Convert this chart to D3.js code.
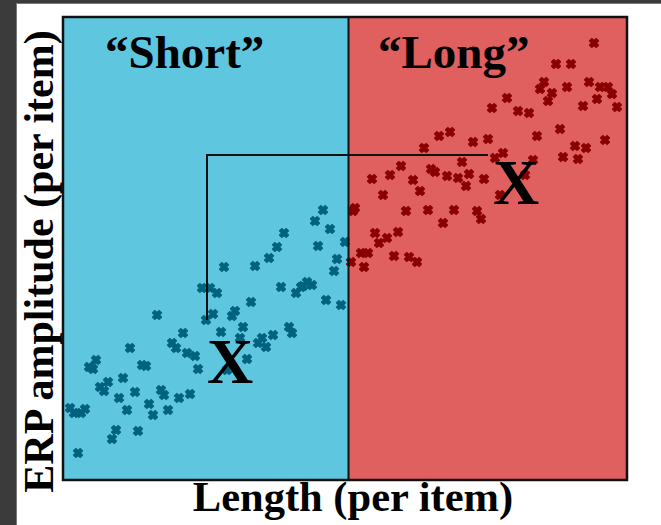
<!DOCTYPE html>
<html>
<head>
<meta charset="utf-8">
<script src="https://cdn.jsdelivr.net/npm/d3@7"></script>
<style>
  html, body { margin: 0; padding: 0; background: #3b3b3b; }
  svg { display: block; }
</style>
</head>
<body>
<svg id="chart" width="661" height="525"></svg>
<script>
// Item length (x) and ERP amplitude (y) for each item, arbitrary units
const shortLength = [26.0, 25.2, 26.7, 22.1, 21.4, 25.5, 28.2, 20.6, 27.4, 27.1, 19.2, 16.1, 21.8, 23.3, 23.8, 24.4, 24.9, 24.0, 26.3, 27.8,
  18.8, 13.9, 14.7, 15.4, 17.2, 16.9, 15.0, 14.3, 9.4, 18.0, 15.8, 17.7, 19.9, 19.5, 20.3, 21.0, 22.6, 22.9, 12.0, 10.9,
  11.3, 12.4, 13.2, 13.5, 18.4, 16.4, 6.7, 3.3, 2.6, 3.0, 7.9, 8.3, 6.0, 4.5, 3.7, 4.1, 7.2, 5.6, 9.8, 10.1,
  11.6, 12.7, 6.4, 8.6, 9.0, 10.5, 0.7, 1.1, 1.8, 2.2, 5.3, 4.9, 7.5, 1.5];
const shortAmplitude = [27.0, 25.9, 25.1, 24.7, 23.3, 23.4, 23.8, 22.2, 22.1, 20.9, 21.4, 21.3, 19.3, 18.7, 19.3, 19.8, 19.5, 19.4, 18.0, 17.5,
  17.8, 19.2, 19.2, 18.7, 16.9, 16.4, 16.6, 16.0, 16.5, 15.3, 14.8, 14.2, 14.2, 13.7, 13.3, 14.5, 15.3, 14.7, 14.7, 13.7,
  13.2, 12.7, 12.4, 11.1, 12.1, 11.0, 13.2, 12.0, 11.3, 11.1, 11.5, 11.4, 10.2, 9.8, 9.3, 8.9, 8.8, 8.2, 9.0, 8.5,
  8.2, 8.6, 7.0, 7.6, 6.5, 7.0, 7.2, 6.7, 6.7, 7.1, 5.0, 4.1, 4.9, 2.7];

const longLength = [53.1, 49.3, 50.8, 48.1, 47.7, 48.9, 48.5, 50.4, 52.6, 53.7, 54.5, 54.9, 53.4, 52.0, 55.4, 44.4, 42.9, 45.5, 46.6, 49.7,
  47.4, 54.2, 51.2, 52.3, 50.0, 51.5, 42.5, 41.0, 38.7, 37.6, 36.1, 44.0, 43.2, 39.9, 47.0, 46.2, 43.7, 33.8, 32.7, 30.9,
  35.0, 36.8, 37.2, 38.4, 39.5, 40.6, 40.3, 42.1, 35.7, 32.0, 29.2, 29.0, 34.3, 36.5, 39.1, 41.4, 41.8, 38.0, 31.2, 32.4,
  31.6, 33.5, 29.8, 30.5, 30.1, 33.1, 34.6, 35.4, 28.8];
const longAmplitude = [43.7, 41.6, 41.6, 39.8, 39.1, 38.7, 37.9, 39.3, 39.8, 39.3, 39.3, 38.6, 38.1, 37.4, 37.3, 38.2, 37.2, 36.9, 36.7, 35.1,
  34.4, 34.0, 33.4, 33.2, 32.3, 32.1, 34.1, 33.8, 34.8, 34.4, 33.2, 32.7, 32.2, 31.8, 32.0, 30.5, 28.5, 31.4, 30.5, 30.1,
  30.0, 31.1, 30.8, 30.4, 30.2, 30.6, 29.4, 30.1, 28.9, 28.5, 27.2, 26.9, 26.9, 27.0, 27.0, 26.9, 26.1, 25.7, 24.7, 24.2,
  23.7, 24.8, 22.7, 22.7, 21.3, 22.4, 22.3, 21.8, 21.8];

// Group means, marked with a large X
const groupNames = ["“Short”", "“Long”"];
const meanLength = [16.7, 45.3];
const meanAmplitude = [11.9, 29.8];

// Length domain and the split between short and long items
const lengthExtent = [0, 56.4];
const amplitudeExtent = [0, 46.3];
const lengthSplit = 28.55;

const axisTitles = ["Length (per item)", "ERP amplitude (per item)"];

const svg = d3.select("#chart");
const W = 661, H = 525;
const plot = { left: 63, right: 627, top: 17, bottom: 480 };
const serif = "'Liberation Serif', 'Times New Roman', serif";

const x = d3.scaleLinear().domain(lengthExtent).range([plot.left, plot.right]);
const y = d3.scaleLinear().domain(amplitudeExtent).range([plot.bottom, plot.top]);

// Slide frame: dark edge with a white page
svg.append("rect").attr("x", 0).attr("y", 0).attr("width", W).attr("height", H).attr("fill", "#3b3b3b");
svg.append("rect").attr("x", 16).attr("y", 3).attr("width", W - 16).attr("height", H - 3).attr("fill", "#7a7a7a");
svg.append("rect").attr("x", 17).attr("y", 4).attr("width", W - 17).attr("height", H - 4).attr("fill", "#ffffff");

// Background regions
svg.append("rect")
  .attr("x", x(lengthExtent[0])).attr("y", y(amplitudeExtent[1]))
  .attr("width", x(lengthSplit) - x(lengthExtent[0]))
  .attr("height", y(amplitudeExtent[0]) - y(amplitudeExtent[1]))
  .attr("fill", "#5ec6df");
svg.append("rect")
  .attr("x", x(lengthSplit)).attr("y", y(amplitudeExtent[1]))
  .attr("width", x(lengthExtent[1]) - x(lengthSplit))
  .attr("height", y(amplitudeExtent[0]) - y(amplitudeExtent[1]))
  .attr("fill", "#e05f5f");

// Group titles
const titleX = [105, 378];
groupNames.forEach((name, i) => {
  svg.append("text")
    .attr("x", titleX[i]).attr("y", 68)
    .attr("font-family", serif).attr("font-weight", "bold").attr("font-size", 47)
    .attr("fill", "#000").text(name);
});

// Scatter markers: chunky rounded crosses
const marker = d3.symbol().type(d3.symbolCross).size(46)();
function drawPoints(xs, ys, color) {
  svg.append("g").selectAll("path")
    .data(d3.zip(xs, ys))
    .join("path")
    .attr("d", marker)
    .attr("transform", d => `translate(${x(d[0])},${y(d[1])}) rotate(45)`)
    .attr("fill", color)
    .attr("stroke", color)
    .attr("stroke-width", 1.6)
    .attr("stroke-linejoin", "round");
}
drawPoints(shortLength, shortAmplitude, "#00627f");
drawPoints(longLength, longAmplitude, "#8a0000");

// Bracket linking the two group means
const sx = x(meanLength[0]), sy = y(meanAmplitude[0]);
const lx = x(meanLength[1]), ly = y(meanAmplitude[1]);
svg.append("path")
  .attr("d", d3.line()([[sx - 23, sy - 41], [sx - 23, ly - 27], [lx - 28, ly - 27]]))
  .attr("fill", "none").attr("stroke", "#111").attr("stroke-width", 2);

// Mean markers
meanLength.forEach((m, i) => {
  svg.append("text")
    .attr("x", x(m)).attr("y", y(meanAmplitude[i]) + 22)
    .attr("text-anchor", "middle")
    .attr("font-family", serif).attr("font-weight", "bold").attr("font-size", 64)
    .attr("fill", "#000").text("X");
});

// Region divider and border
svg.append("line")
  .attr("x1", x(lengthSplit)).attr("x2", x(lengthSplit))
  .attr("y1", y(amplitudeExtent[0])).attr("y2", y(amplitudeExtent[1]))
  .attr("stroke", "#111").attr("stroke-width", 2);
svg.append("rect")
  .attr("x", plot.left).attr("y", plot.top)
  .attr("width", plot.right - plot.left).attr("height", plot.bottom - plot.top)
  .attr("fill", "none").attr("stroke", "#111").attr("stroke-width", 2.5);

// Axis titles
svg.append("text")
  .attr("x", (plot.left + plot.right) / 2 + 8).attr("y", 511)
  .attr("text-anchor", "middle")
  .attr("font-family", serif).attr("font-weight", "bold").attr("font-size", 42.5)
  .attr("fill", "#000").text(axisTitles[0]);
svg.append("text")
  .attr("transform", `translate(53, ${(plot.top + plot.bottom) / 2 + 13}) rotate(-90)`)
  .attr("text-anchor", "middle")
  .attr("font-family", serif).attr("font-weight", "bold").attr("font-size", 42)
  .attr("fill", "#000").text(axisTitles[1]);
</script>
</body>
</html>
